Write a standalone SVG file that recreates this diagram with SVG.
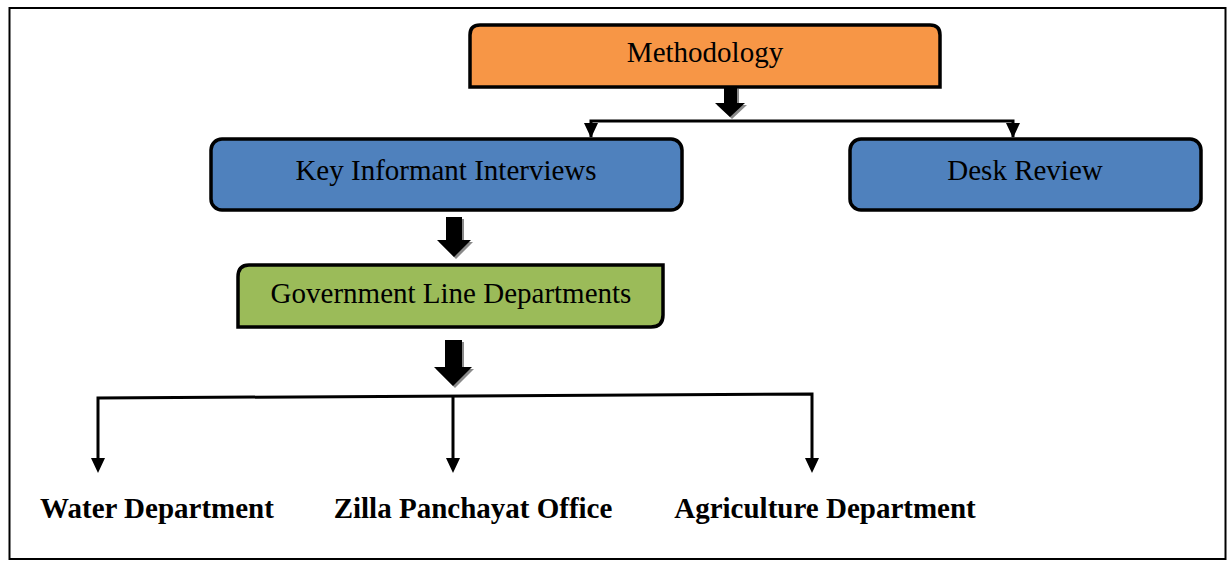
<svg xmlns="http://www.w3.org/2000/svg" width="1229" height="562" viewBox="0 0 1229 562">
<style>
.box{stroke:#000;stroke-width:3.5;}
.t{font-family:"Liberation Serif","Times New Roman",serif;font-size:29px;fill:#000;text-anchor:middle;}
.b{font-family:"Liberation Serif","Times New Roman",serif;font-size:29px;font-weight:bold;fill:#000;text-anchor:middle;}
.ln{stroke:#000;stroke-width:3;fill:none;}
.head{fill:#000;}
.fat{fill:#000;}
.sh{fill:#8a8a8a;}
</style>
<rect x="0" y="0" width="1229" height="562" fill="#fff"/>
<rect x="9.5" y="8" width="1216" height="551" fill="none" stroke="#000" stroke-width="2"/>

<g id="methodology">
<path class="box" fill="#F79646" d="M470,87 V35 Q470,25 480,25 H930 Q940,25 940,35 V87 Z"/>
<text class="t" x="705" y="62">Methodology</text>
</g>

<g id="key-informant">
<rect class="box" fill="#4F81BD" x="211" y="139" width="471" height="71" rx="11"/>
<text class="t" x="446" y="180">Key Informant Interviews</text>
</g>

<g id="desk-review">
<rect class="box" fill="#4F81BD" x="850" y="139" width="351" height="71" rx="11"/>
<text class="t" x="1025" y="180">Desk Review</text>
</g>

<g id="government">
<path class="box" fill="#9BBB59" d="M249,265 H663 V315 Q663,327 651,327 H238 V277 Q238,265 249,265 Z"/>
<text class="t" x="451" y="303">Government Line Departments</text>
</g>

<g id="water">
<text class="b" x="157" y="518">Water Department</text>
</g>
<g id="zilla">
<text class="b" x="473" y="518">Zilla Panchayat Office</text>
</g>
<g id="agriculture">
<text class="b" x="825" y="518">Agriculture Department</text>
</g>

<g id="connectors">
<!-- fat arrow 1 -->
<path class="sh" transform="translate(2,2)" d="M724,87 H737 V103 H745 L730,117 L715,103 H724 Z"/>
<path class="fat" d="M724,87 H737 V103 H745 L730,117 L715,103 H724 Z"/>
<path class="ln" d="M591,137 V121 H1013 V137"/>
<path class="head" d="M584,123 H598 L591,138 Z"/>
<path class="head" d="M1006,123 H1020 L1013,138 Z"/>

<!-- fat arrow 2 -->
<path class="sh" transform="translate(2,2)" d="M446,217 H462 V240 H471 L454,257 L437,240 H446 Z"/>
<path class="fat" d="M446,217 H462 V240 H471 L454,257 L437,240 H446 Z"/>

<!-- fat arrow 3 -->
<path class="sh" transform="translate(2,2)" d="M445,340 H462 V367 H472 L453,386 L434,367 H445 Z"/>
<path class="fat" d="M445,340 H462 V367 H472 L453,386 L434,367 H445 Z"/>

<path class="ln" d="M98,460 V398 L812,394 V460"/>
<path class="ln" d="M453,396 V460"/>
<path class="head" d="M91,458 H105 L98,473 Z"/>
<path class="head" d="M446,458 H460 L453,473 Z"/>
<path class="head" d="M805,458 H819 L812,473 Z"/>
</g>
</svg>
